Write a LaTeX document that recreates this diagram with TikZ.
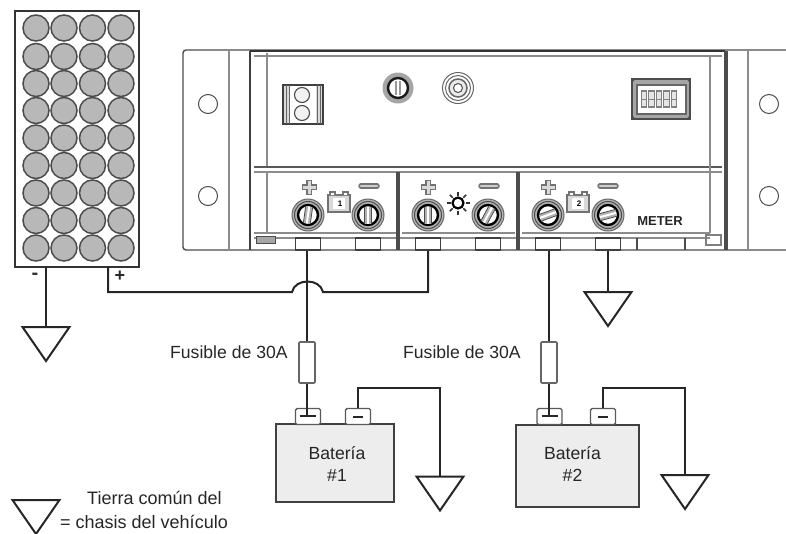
\documentclass[tikz,border=0pt]{standalone}
\usepackage{fontspec}
\setmainfont{Liberation Sans}
\tikzset{
  wire/.style={draw=black!85,line width=2pt,line join=miter},
  cell/.style={circle,draw=black!70,line width=1.5pt,fill=black!28,minimum size=26pt,inner sep=0pt},
  tabbox/.style={rectangle,draw=black!75,line width=1.4pt,fill=white,minimum width=25pt,minimum height=12pt,inner sep=0pt},
  fuse/.style={rectangle,rounded corners=1pt,draw=black!60,line width=1.6pt,fill=white,minimum width=16pt,minimum height=41pt,inner sep=0pt},
  batt/.style={rectangle,draw=black!75,line width=1.5pt,fill=black!7,inner sep=0pt},
  bterm/.style={rectangle,rounded corners=1.5pt,draw=black!65,line width=1.4pt,fill=white,minimum width=25pt,minimum height=16pt,inner sep=0pt},
  lbl/.style={text=black!85,font=\fontsize{17.6}{20}\selectfont,inner sep=0pt},
  hole/.style={circle,draw=black!70,line width=1pt,minimum size=19pt,inner sep=0pt,fill=white},
  light/.style={draw=black!45,line width=1.4pt},
  pics/ground/.style={code={\draw[draw=black!85,line width=2pt,line join=miter,fill=white] (-23.5,0) -- (23.5,0) -- (0,34) -- cycle;}},
  pics/screw/.style={code={
    \fill[black!30] (0,0) circle (16);
    \draw[black!60,line width=1pt] (0,0) circle (16);
    \draw[black!70,line width=1pt] (0,0) circle (13.5);
    \draw[black,line width=2.4pt,fill=white] (0,0) circle (10);
    \begin{scope}[rotate=#1]
      \fill[black!30] (-3.5,-8.5) rectangle (3.5,8.5);
      \draw[black!70,line width=.8pt] (-3.5,-8.5) -- (-3.5,8.5) (3.5,-8.5) -- (3.5,8.5);
      \fill[white] (-1,-8.5) rectangle (1,8.5);
    \end{scope}}},
  pics/plussign/.style={code={
    \draw[black!55,line width=6pt] (-7.5,0) -- (7.5,0) (0,-7.5) -- (0,7.5);
    \draw[black!15,line width=3pt] (-6.5,0) -- (6.5,0) (0,-6.5) -- (0,6.5);}},
  pics/minussign/.style={code={
    \draw[black!55,line width=5.5pt,line cap=round] (-8,0) -- (8,0);
    \draw[black!20,line width=2.8pt,line cap=round] (-8,0) -- (8,0);}},
  pics/batticon/.style={code={
    \draw[black!55,line width=1.2pt,fill=black!15] (-11,-7) rectangle (11,10);
    \draw[black!55,line width=1.4pt,fill=white] (-9,-7) -- (-9,-10) -- (-4,-10) -- (-4,-7) (4,-7) -- (4,-10) -- (9,-10) -- (9,-7);
    \fill[white] (-6,-4) rectangle (6,7);
    \node[font=\bfseries\fontsize{8}{8}\selectfont,inner sep=0pt] at (1,2) {#1};}},
}
\begin{document}
\begin{tikzpicture}[x=1pt,y=-1pt]
\useasboundingbox (0,0) rectangle (786,533);
% ---- solar panel
\node[rectangle,draw=black!80,line width=1.9pt,fill=white,minimum width=124pt,minimum height=256pt,inner sep=0pt] (panel) at (77,139) {};
\foreach \cy [count=\r] in {28,56.5,83.5,110.5,138,165.5,193,220.5,248}
  \foreach \cx [count=\c] in {36,64,92.5,121}
    \node[cell] (c\r-\c) at (\cx,\cy) {};
\node[font=\bfseries\fontsize{20}{20}\selectfont,text=black!80,inner sep=0pt] (pvm) at (35,276) {-};
\node[font=\bfseries\fontsize{18}{18}\selectfont,text=black!85,inner sep=0pt] (pvp) at (120,276) {+};
% ---- controller body
\draw[black!70,line width=1.4pt,rounded corners=3pt] (786,50) -- (183,50) -- (183,250) -- (786,250);
\draw[light] (229,50) -- (229,250);
\draw[black!75,line width=2.4pt] (250,51) -- (250,250);
\draw[light] (267,53) -- (267,167) (267,172) -- (267,233);
\draw[black!80,line width=1.6pt] (250,51) -- (725,51);
\draw[light] (254,56) -- (722,56);
\draw[black!65,line width=2.6pt] (254,167) -- (722,167);
\draw[light] (254,172) -- (722,172);
\draw[light] (254,233) -- (398,233) (402,233) -- (515,233) (522,233) -- (710,233);
\draw[light] (254,238) -- (710,238);
\draw[black!70,line width=3.5pt] (398,172) -- (398,250);
\draw[black!70,line width=3.5pt] (518,172) -- (518,250);
\draw[black!70,line width=3.2pt] (726,51) -- (726,250);
\draw[light] (710,56) -- (710,233);
\draw[light] (748,50) -- (748,250);
\draw[black!70,line width=1pt,fill=black!35] (256,236) rectangle (275,243);
\draw[black!50,line width=1.2pt] (706,235) rectangle (721,245);
\draw[black!70,line width=1.4pt] (637,238) -- (637,250) (685,238) -- (685,250);
\node[hole] (h1) at (208,104) {};
\node[hole] (h2) at (208,196) {};
\node[hole] (h3) at (769,104) {};
\node[hole] (h4) at (769,196) {};
% two-way connector
\draw[black!75,line width=1.4pt,fill=black!15] (283,85) rectangle (323,124);
\fill[white] (290,86) rectangle (316,123);
\draw[black!60,line width=.9pt] (286,85) -- (286,124) (289,85) -- (289,124) (317,85) -- (317,124) (320,85) -- (320,124);
\node[circle,draw=black!70,line width=1.1pt,minimum size=15pt,inner sep=0pt,fill=black!5] (cn1) at (302,95) {};
\node[circle,draw=black!70,line width=1.1pt,minimum size=15pt,inner sep=0pt,fill=black!5] (cn2) at (302,113) {};
% knobs
\fill[black!35] (398,88) circle (15.5);
\draw[black!90,line width=2.4pt,fill=white] (398,88) circle (10);
\fill[black!40] (395,81) rectangle (401,95);
\fill[white] (397,81) rectangle (399,95);
\draw[black!60,line width=1pt] (458,88) circle (15.5);
\draw[black!60,line width=1pt] (458,88) circle (12.5);
\draw[black!60,line width=1.5pt,fill=black!8] (458,88) circle (9);
\draw[black!70,line width=1pt,fill=white] (458,88) circle (4.5);
% meter
\draw[black!70,line width=1.2pt,fill=black!35] (632,79) rectangle (690,119);
\fill[white] (637,85) rectangle (686,114);
\draw[black!60,line width=1.5pt] (637,85) rectangle (686,114);
\foreach \dx in {644,651.5,659,666.5,674}
  \draw[black!50,line width=1.1pt,fill=black!10] (\dx-2.6,91) rectangle (\dx+2.6,107);
\foreach \dx in {644,651.5,659,666.5,674}
  \draw[black!50,line width=1pt] (\dx-2.6,99) -- (\dx+2.6,99);
\fill[black!70] (633,80) circle (1.6) (689,80) circle (1.6) (633,118) circle (1.6) (689,118) circle (1.6);
% terminals
\foreach \n/\sx/\a in {1/308/-8,2/368/0,3/428/0,4/488/-28,5/548/-70,6/608/-75}
  \pic at (\sx,215) {screw=\a};
\foreach \px in {309,428,548} \pic at (\px,187) {plussign};
\foreach \px in {369,489,608} \pic at (\px,186) {minussign};
\pic at (339,202) {batticon=1};
\pic at (578,202) {batticon=2};
% sun
\draw[black,line width=2.2pt,fill=white] (458,203) circle (5.5);
\foreach \an in {0,45,...,315}
  \draw[black!80,line width=1.5pt] (458,203) ++(\an:7.5) -- ++(\an:4);
\node[font=\bfseries\fontsize{13}{14}\selectfont,text=black!85,inner sep=0pt] (meterlbl) at (660,221.5) {METER};
% tabs
\node[tabbox] (t1) at (308,244) {};
\node[tabbox] (t2) at (368,244) {};
\node[tabbox] (t3) at (428,244) {};
\node[tabbox] (t4) at (488,244) {};
\node[tabbox] (t5) at (548,244) {};
\node[tabbox] (t6) at (608,244) {};
% ---- fuses
\node[fuse] (f1) at (307,362.5) {};
\node[fuse] (f2) at (549,362.5) {};
\node[lbl,anchor=west] (fl1) at (170,352.5) {Fusible de 30A};
\node[lbl,anchor=west] (fl2) at (403,352.5) {Fusible de 30A};
% ---- batteries
\node[batt,minimum width=118pt,minimum height=78pt] (b1) at (335,463) {};
\node[batt,minimum width=123pt,minimum height=82pt] (b2) at (577.5,466) {};
\node[lbl,align=center,font=\fontsize{17.6}{22}\selectfont] (b1t) at (337,464) {Batería\\\#1};
\node[lbl,align=center,font=\fontsize{17.6}{22}\selectfont] (b2t) at (572.5,464) {Batería\\\#2};
\node[bterm] (p1) at (308,416.5) {};
\node[bterm] (m1) at (358,416.5) {};
\node[bterm] (p2) at (549.5,416.5) {};
\node[bterm] (m2) at (603,416.5) {};
% ---- grounds
\coordinate (g0) at (46,327);
\coordinate (g1) at (608,292);
\coordinate (g2) at (440,476.5);
\coordinate (g3) at (685,475);
\coordinate (g4) at (36,500);
% ---- connectors
\coordinate (pvneg) at (46,267);
\coordinate (pvpos) at (108,267);
\coordinate (hopa) at (292,292);
\coordinate (hopb) at (323,292);
\coordinate (n1top) at (358,388);
\coordinate (n2top) at (603,388);
\draw[wire] (pvneg) -- (g0);
\draw[wire] (pvpos) |- (hopa) .. controls +(3,-14) and +(-3,-14) .. (hopb) -| (t3.south);
\draw[wire] (t1.south -| f1.north) -- (f1.north);
\draw[wire] (f1.south) -- (f1.south |- p1.center);
\draw[wire] (t5.south -| f2.north) -- (f2.north);
\draw[wire] (f2.south) -- (f2.south |- p2.center);
\draw[wire] (t6.south) -- (g1);
\draw[wire] (m1.north) -- (n1top) -| (g2);
\draw[wire] (m2.north) -- (n2top) -| (g3);
\draw[black!85,line width=1.8pt] (300,416) -- (316,416) (542,416) -- (558,416);
\draw[black!85,line width=2.4pt] (353,417) -- (363,417) (598,417) -- (608,417);
\pic at (g0) {ground};
\pic at (g1) {ground};
\pic at (g2) {ground};
\pic at (g3) {ground};
\pic at (g4) {ground};
% ---- legend
\node[lbl,font=\fontsize{18}{18}\selectfont,anchor=west] (lg1) at (87,498) {Tierra común del};
\node[lbl,font=\fontsize{18}{18}\selectfont,anchor=west] (lg2) at (60,522) {= chasis del vehículo};
\end{tikzpicture}
\end{document}
